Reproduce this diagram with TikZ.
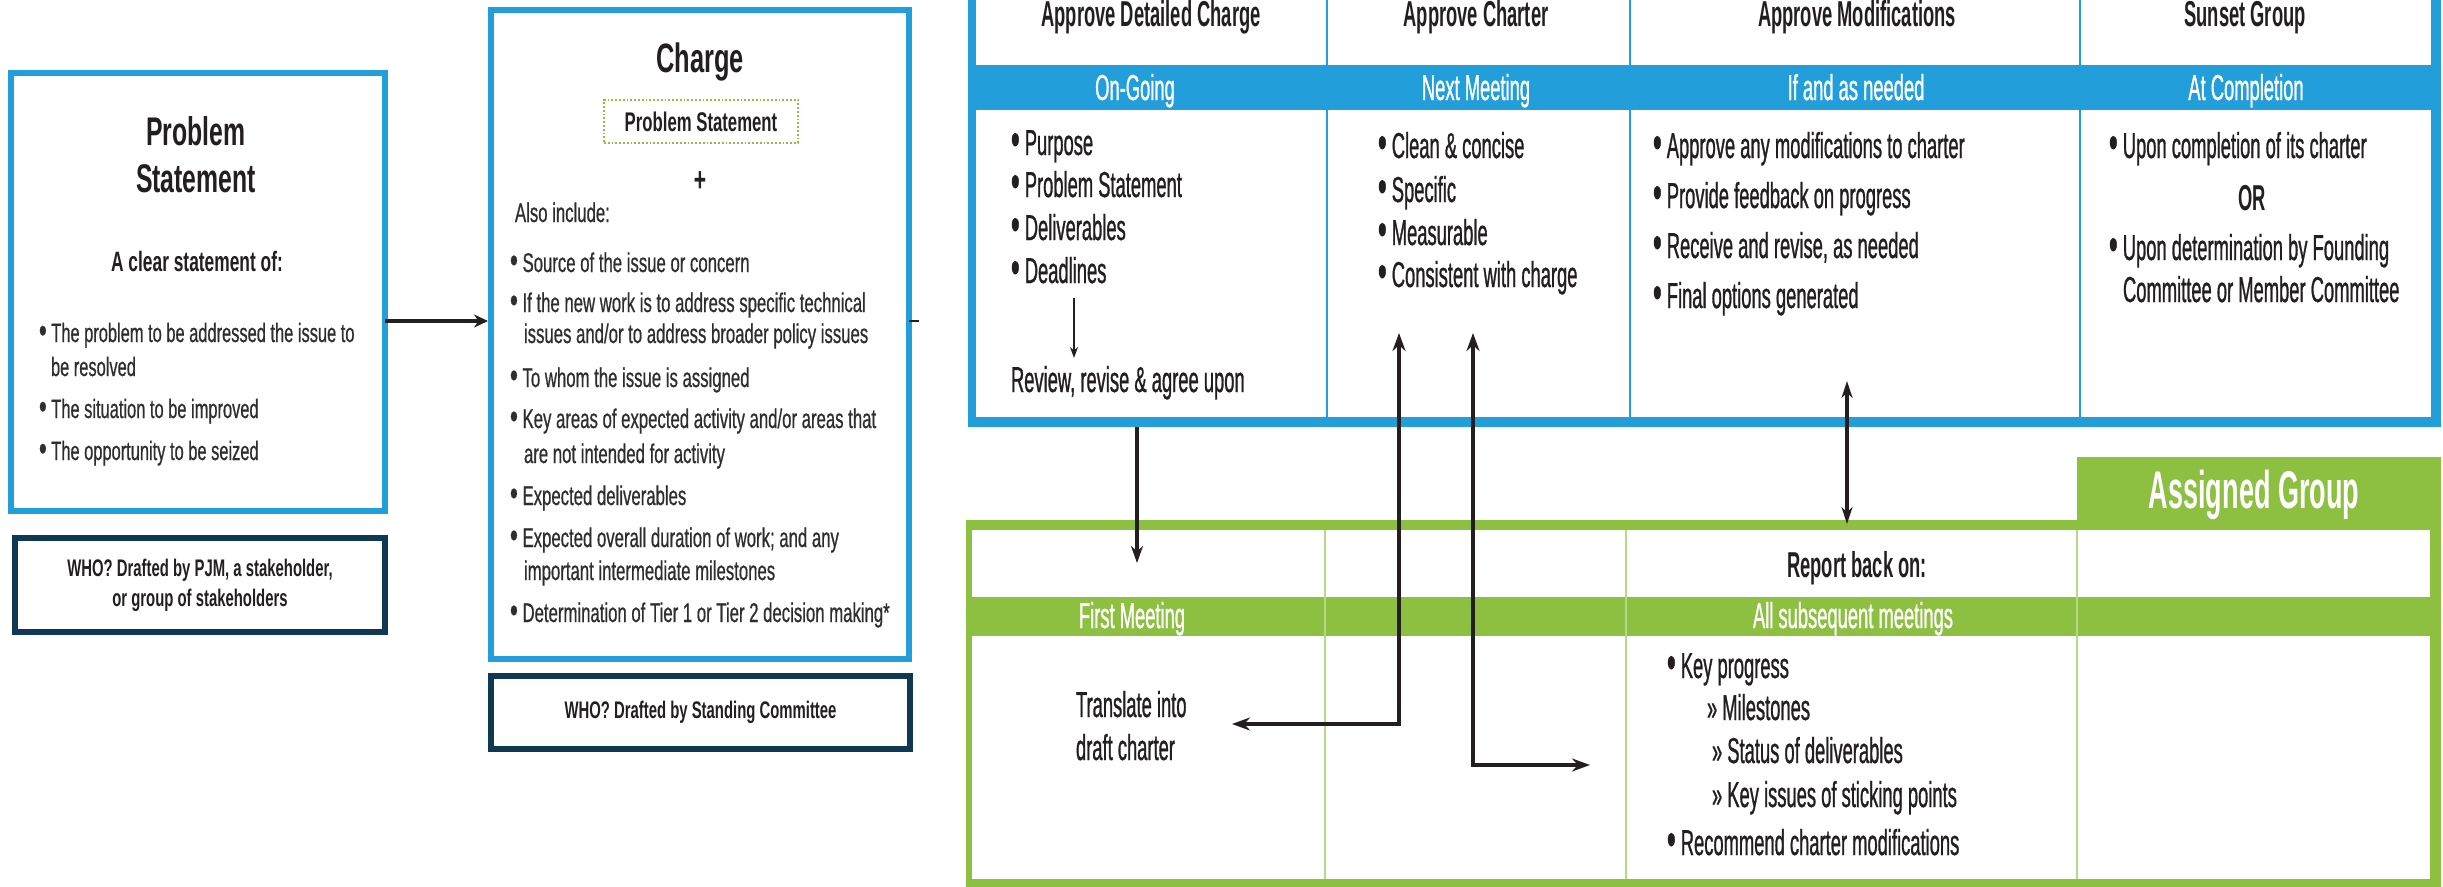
\documentclass[tikz,border=0pt]{standalone}
\usepackage{graphicx}
\usepackage{fontspec}
\setmainfont{Liberation Sans}[FakeStretch=0.62, UprightFeatures={FakeBold=0.6}]
\newfontfamily\tabfont{Liberation Sans}[FakeStretch=0.51, UprightFeatures={FakeBold=0.8}]
\usetikzlibrary{arrows.meta}
\definecolor{pjmblue}{HTML}{229FDA}
\definecolor{pjmgreen}{HTML}{8DC041}
\definecolor{pjmnavy}{HTML}{0F3853}
\definecolor{ink}{HTML}{231F20}
\definecolor{greytext}{HTML}{2E2E2E}
\definecolor{lgreen}{HTML}{B5D98A}
\newcommand{\bul}{\raisebox{-0.02em}{\scalebox{1.35}{\textbullet}}}
\tikzset{
  every node/.style={inner sep=0pt, outer sep=0pt, text=ink},
  lbody/.style={anchor=base west, text=greytext, font=\fontsize{26.5}{30}\selectfont},
  lhead/.style={anchor=base, font=\bfseries\fontsize{40}{44}\selectfont},
  lsub/.style={anchor=base, font=\bfseries\fontsize{28}{30}\selectfont},
  whotext/.style={align=center, font=\bfseries\fontsize{24}{30}\selectfont},
  bluebox/.style={draw=pjmblue, line width=6pt},
  navybox/.style={draw=pjmnavy, line width=6pt},
  tbody/.style={anchor=base west, font=\tabfont\fontsize{36}{40}\selectfont},
  thead/.style={anchor=base, font=\tabfont\bfseries\fontsize{36}{40}\selectfont},
  tband/.style={anchor=base, text=white, font=\tabfont\fontsize{36}{40}\selectfont},
  arrA/.style={draw=ink, line width=3.5pt, -{Stealth[length=14pt,width=13pt]}, shorten >=3pt},
  arrS/.style={draw=ink, line width=2.5pt, -{Stealth[length=11pt,width=8pt]}},
  arrT/.style={draw=ink, line width=4pt, -{Stealth[length=17pt,width=12pt]}},
  arrD/.style={draw=ink, line width=4.5pt, {Stealth[length=18pt,width=13pt]}-{Stealth[length=18pt,width=13pt]}},
  arrV/.style={draw=ink, line width=4pt, {Stealth[length=17pt,width=11pt]}-{Stealth[length=17pt,width=11pt]}},
}
\begin{document}
\begin{tikzpicture}[x=1pt,y=-1pt]
\useasboundingbox (0,0) rectangle (2443,886);
\fill[white] (0,0) rectangle (2443,886);

% ---------------- Problem statement ----------------
\node[bluebox, minimum width=374pt, minimum height=438pt] (ps) at (198,292) {};
\node[lhead] (pst1) at (196,145) {Problem};
\node[lhead] (pst2) at (196,192) {Statement};
\node[lsub] (psclear) at (197,271) {A clear statement of:};
\node[lbody] (ps1) at (39,342) {\bul\ The problem to be addressed the issue to};
\node[lbody] (ps1b) at (51,376) {be resolved};
\node[lbody] (ps2) at (39,418) {\bul\ The situation to be improved};
\node[lbody] (ps3) at (39,460) {\bul\ The opportunity to be seized};
\node[navybox, whotext, minimum width=370pt, minimum height=94pt] (who1) at (200,585)
  {WHO? Drafted by PJM, a stakeholder,\\or group of stakeholders};

% ---------------- Charge ----------------
\node[bluebox, minimum width=418pt, minimum height=649pt] (charge) at (700,334.5) {};
\node[anchor=base, font=\bfseries\fontsize{41}{44}\selectfont] (chtitle) at (700,72) {Charge};
\node[draw=pjmgreen, dotted, line width=1.8pt, minimum width=194pt, minimum height=43pt,
      font=\bfseries\fontsize{27}{30}\selectfont] (chps) at (701,121.5) {Problem Statement};
\node[font=\bfseries\fontsize{34}{36}\selectfont] (plus) at (700,182) {+};
\node[lbody, font=\fontsize{27}{30}\selectfont] (also) at (515,222) {Also include:};
\tikzset{cb/.style={lbody, font=\fontsize{27}{30}\selectfont}}
\node[cb] (c1) at (510,272) {\bul\ Source of the issue or concern};
\node[cb] (c2) at (510,312) {\bul\ If the new work is to address specific technical};
\node[cb] (c2b) at (524,343) {issues and/or to address broader policy issues};
\node[cb] (c3) at (510,387) {\bul\ To whom the issue is assigned};
\node[cb] (c4) at (510,428) {\bul\ Key areas of expected activity and/or areas that};
\node[cb] (c4b) at (524,463) {are not intended for activity};
\node[cb] (c5) at (510,505) {\bul\ Expected deliverables};
\node[cb] (c6) at (510,547) {\bul\ Expected overall duration of work; and any};
\node[cb] (c6b) at (524,580) {important intermediate milestones};
\node[cb] (c7) at (510,622) {\bul\ Determination of Tier 1 or Tier 2 decision making*};
\node[navybox, whotext, minimum width=419pt, minimum height=73pt] (who2) at (700.5,712.5)
  {WHO? Drafted by Standing Committee};

% ---------------- Blue table ----------------
\fill[pjmblue] (968,-20) rectangle (2441,427);
\fill[white] (976,-20) rectangle (2431,417);
\fill[pjmblue] (968,65) rectangle (2441,110);
\foreach \xx in {1327,1630,2080} \draw[pjmblue, line width=2pt] (\xx,0) -- (\xx,417);
\node[thead] (h1) at (1151,26) {Approve Detailed Charge};
\node[thead] (h2) at (1476,26) {Approve Charter};
\node[thead] (h3) at (1857,26) {Approve Modifications};
\node[thead] (h4) at (2245,26) {Sunset Group};
\node[tband] (b1) at (1135,100) {On-Going};
\node[tband] (b2) at (1476,100) {Next Meeting};
\node[tband] (b3) at (1856,100) {If and as needed};
\node[tband] (b4) at (2246,100) {At Completion};
% column 1
\node[tbody] (p1) at (1011,155) {\bul\ Purpose};
\node[tbody] (p2) at (1011,197) {\bul\ Problem Statement};
\node[tbody] (p3) at (1011,240) {\bul\ Deliverables};
\node[tbody] (p4) at (1011,283) {\bul\ Deadlines};
\node[tbody] (rev) at (1011,392) {Review, revise \& agree upon};
% column 2
\node[tbody] (q1) at (1378,158) {\bul\ Clean \& concise};
\node[tbody] (q2) at (1378,202) {\bul\ Specific};
\node[tbody] (q3) at (1378,245) {\bul\ Measurable};
\node[tbody] (q4) at (1378,287) {\bul\ Consistent with charge};
% column 3
\node[tbody] (r1) at (1653,158) {\bul\ Approve any modifications to charter};
\node[tbody] (r2) at (1653,208) {\bul\ Provide feedback on progress};
\node[tbody] (r3) at (1653,258) {\bul\ Receive and revise, as needed};
\node[tbody] (r4) at (1653,308) {\bul\ Final options generated};
% column 4
\node[tbody] (s1) at (2109,158) {\bul\ Upon completion of its charter};
\node[thead] (sor) at (2252,210) {OR};
\node[tbody] (s2) at (2109,260) {\bul\ Upon determination by Founding};
\node[tbody] (s2b) at (2123,302) {Committee or Member Committee};

% ---------------- Green table ----------------
\fill[pjmgreen] (966,520) rectangle (2441,900);
\fill[white] (972,530) rectangle (2430,879);
\fill[pjmgreen] (2077,457) rectangle (2441,530);
\fill[pjmgreen] (966,597) rectangle (2441,636);
\foreach \xx in {1325,1626,2077} \draw[lgreen, line width=2pt] (\xx,530) -- (\xx,879);
\node[anchor=base, text=white, font=\tabfont\bfseries\fontsize{53}{56}\selectfont] (assigned) at (2254,508) {Assigned Group};
\node[thead] (report) at (1857,577) {Report back on:};
\node[tband] (g1) at (1132,628) {First Meeting};
\node[tband] (g2) at (1853,628) {All subsequent meetings};
\node[tbody] (tr1) at (1076,717) {Translate into};
\node[tbody] (tr2) at (1076,760) {draft charter};
\node[tbody] (k1) at (1667,678) {\bul\ Key progress};
\node[tbody] (k2) at (1707,720) {\char"00BB\ Milestones};
\node[tbody] (k3) at (1712,763) {\char"00BB\ Status of deliverables};
\node[tbody] (k4) at (1712,807) {\char"00BB\ Key issues of sticking points};
\node[tbody] (k5) at (1667,855) {\bul\ Recommend charter modifications};

% ---------------- Connectors ----------------
\coordinate (rowA) at (0,321);
\coordinate (stubend) at (919,321);
\coordinate (bA) at (1137,427);
\coordinate (gA) at (1137,563);
\coordinate (c2t) at (1399,333);
\coordinate (c2l) at (1232,724);
\coordinate (c3t) at (1473,333);
\coordinate (c3r) at (1590,765);
\coordinate (m4t) at (1847,381);
\coordinate (m4b) at (1847,524);
\coordinate (d1t) at (1074,298);
\coordinate (d1b) at (1074,358);

\draw[arrA] (ps.east |- rowA) -- (charge.west |- rowA);
\draw[ink, line width=2pt] (charge.east |- rowA) -- (stubend);
\draw[arrS] (d1t) -- (d1b);
\draw[arrT] (bA) -- (gA);
\draw[arrD] (c2t) |- (c2l);
\draw[arrD] (c3t) |- (c3r);
\draw[arrV] (m4t) -- (m4b);
\end{tikzpicture}
\end{document}
